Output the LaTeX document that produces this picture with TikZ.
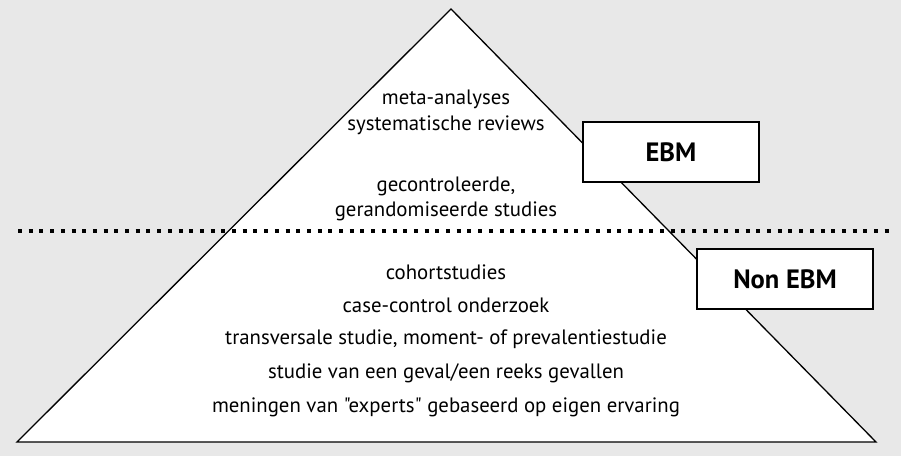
\documentclass[tikz,border=0pt]{standalone}
\usepackage{fontspec}
\setmainfont{PT Sans}
\newfontfamily\pyrfont{PT Sans}
\definecolor{bggray}{HTML}{E8E8E8}
\tikzset{
  lvl/.style={font=\pyrfont\fontsize{20.8}{24}\selectfont, inner sep=0pt},
  tagbox/.style={draw, line width=1.8pt, fill=white, minimum width=176pt,
    minimum height=60pt, inner sep=0pt, font=\fontsize{26.5}{30}\selectfont\bfseries},
  dotline/.style={line width=4pt, dash pattern=on 4pt off 6.7pt}
}
\begin{document}
\begin{tikzpicture}[x=1pt,y=-1pt]
  \fill[bggray] (0,0) rectangle (901,456);
  \useasboundingbox (0,0) rectangle (901,456);
  % pyramid
  \coordinate (apex) at (451,9);
  \coordinate (bl) at (17,442);
  \coordinate (br) at (876,442);
  \draw[fill=white, line width=1.3pt] (apex) -- (br) -- (bl) -- cycle;
  % separation line
  \coordinate (dl) at (18,231);
  \coordinate (dr) at (895,231);
  \draw[dotline] (dl) -- (dr);
  % upper levels
  \node[lvl] (meta) at (446,99) {meta-analyses};
  \node[lvl] (sysrev) at (446,125) {systematische reviews};
  \node[lvl] (gecon) at (446,186) {gecontroleerde,};
  \node[lvl] (gerand) at (446,211) {gerandomiseerde studies};
  % lower levels
  \node[lvl] (cohort) at (446,272) {cohortstudies};
  \node[lvl] (casec) at (446,305) {case-control onderzoek};
  \node[lvl] (transv) at (446,339) {transversale studie, moment- of prevalentiestudie};
  \node[lvl] (geval) at (446,373) {studie van een geval/een reeks gevallen};
  \node[lvl] (expert) at (446,407) {meningen van "experts" gebaseerd op eigen ervaring};
  % labels
  \node[tagbox] (ebm) at (671,152) {EBM};
  \node[tagbox] (nonebm) at (785,279) {Non EBM};
\end{tikzpicture}
\end{document}
